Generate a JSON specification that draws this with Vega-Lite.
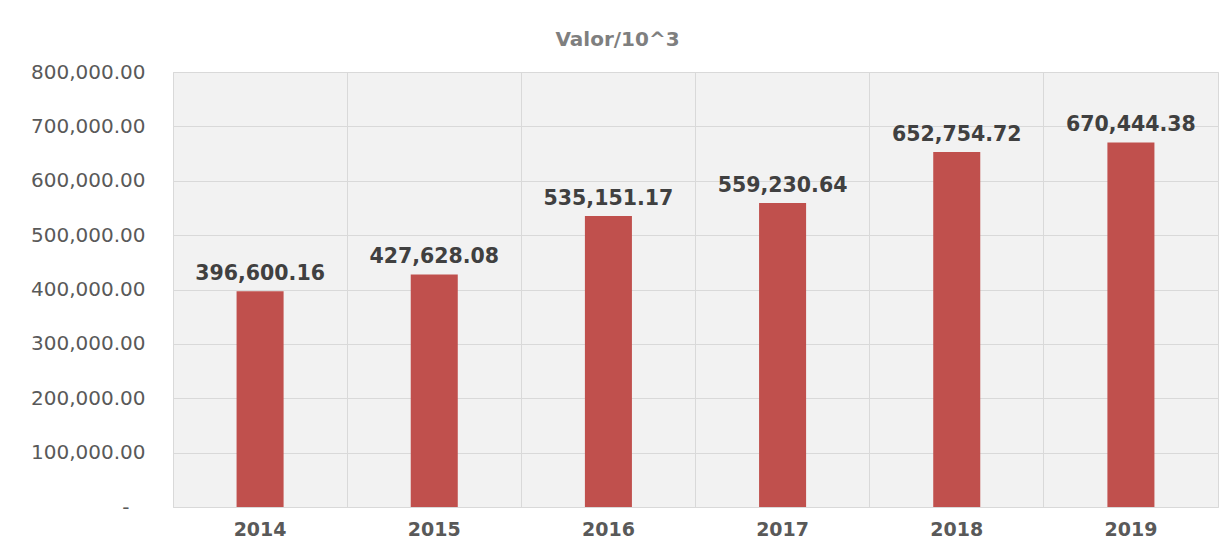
{
  "$schema": "https://vega.github.io/schema/vega-lite/v6.json",
  "width": 1045,
  "height": 435,
  "autosize": "none",
  "padding": {"left": 173, "top": 72, "right": 9, "bottom": 37},
  "background": "white",
  "title": {
    "text": "Valor/10^3",
    "anchor": "middle",
    "dx": -78,
    "offset": 12,
    "font": "DejaVu Sans",
    "fontSize": 20,
    "fontWeight": "bold",
    "color": "#7f7f7f"
  },
  "data": {
    "values": [
      {"year": "2014", "valor": 396600.16},
      {"year": "2015", "valor": 427628.08},
      {"year": "2016", "valor": 535151.17},
      {"year": "2017", "valor": 559230.64},
      {"year": "2018", "valor": 652754.72},
      {"year": "2019", "valor": 670444.38}
    ]
  },
  "encoding": {
    "x": {
      "field": "year",
      "type": "ordinal",
      "scale": {"paddingInner": 0, "paddingOuter": 0},
      "axis": {
        "title": null,
        "labelAngle": 0,
        "labelFont": "DejaVu Sans",
        "labelFontSize": 19,
        "labelFontWeight": "bold",
        "labelColor": "#595959",
        "labelPadding": 13,
        "ticks": false,
        "domain": false,
        "grid": true,
        "bandPosition": 0,
        "gridColor": "#d9d9d9"
      }
    },
    "y": {
      "field": "valor",
      "type": "quantitative",
      "scale": {"domain": [0, 800000]},
      "axis": {
        "title": null,
        "values": [0, 100000, 200000, 300000, 400000, 500000, 600000, 700000, 800000],
        "labelExpr": "datum.value == 0 ? '-' : format(datum.value, ',.2f')",
        "labelOverlap": false,
        "labelFont": "DejaVu Sans",
        "labelFontSize": 20,
        "labelColor": "#595959",
        "labelPadding": {"condition": {"test": "datum.value == 0", "value": 44}, "value": 28},
        "ticks": false,
        "domain": false,
        "gridColor": "#d9d9d9"
      }
    }
  },
  "layer": [
    {
      "mark": {"type": "bar", "color": "#C0504D", "width": {"band": 0.27}}
    },
    {
      "mark": {
        "type": "text",
        "baseline": "alphabetic",
        "dy": -11,
        "font": "DejaVu Sans",
        "fontSize": 20.5,
        "fontWeight": "bold",
        "color": "#404040"
      },
      "encoding": {
        "text": {"field": "valor", "type": "quantitative", "format": ",.2f"}
      }
    }
  ],
  "config": {
    "view": {"fill": "#f2f2f2", "stroke": "#d9d9d9"}
  }
}
